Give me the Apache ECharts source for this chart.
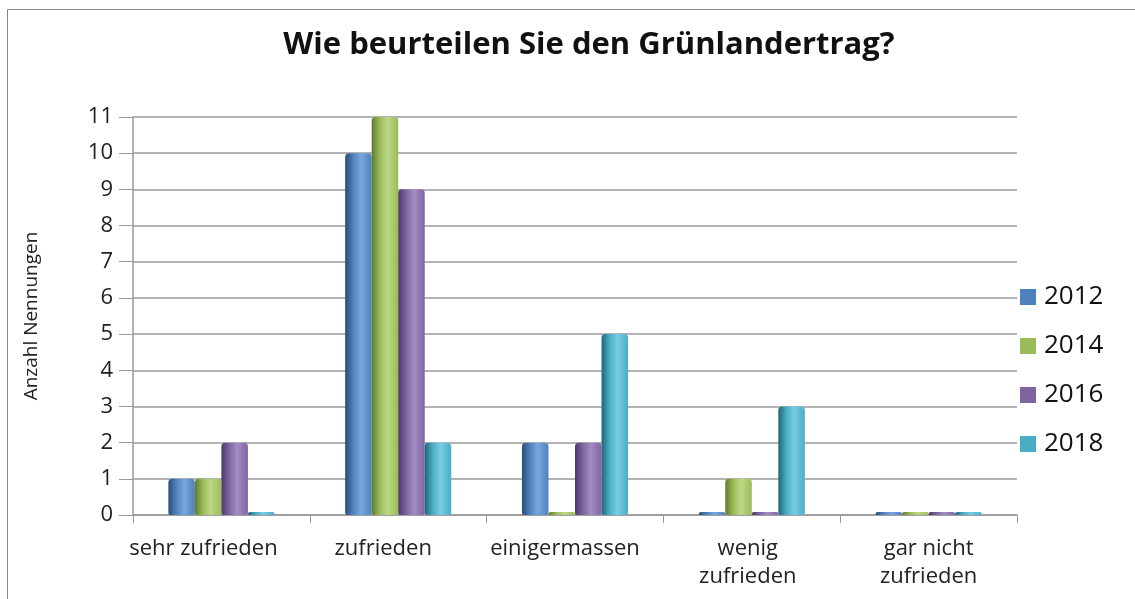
<!DOCTYPE html>
<html>
<head>
<meta charset="utf-8">
<script src="https://cdn.jsdelivr.net/npm/echarts@6/dist/echarts.min.js"></script>
<style>
  html, body { margin: 0; padding: 0; background: #fff; }
  #main { width: 1135px; height: 599px; }
</style>
</head>
<body>
<div id="main"></div>
<script>
var categories = ['sehr zufrieden', 'zufrieden', 'einigermassen', 'wenig\nzufrieden', 'gar nicht\nzufrieden'];
var years = ['2012', '2014', '2016', '2018'];
var values2012 = [1, 10, 2, 0, 0];
var values2014 = [1, 11, 0, 1, 0];
var values2016 = [2, 9, 2, 0, 0];
var values2018 = [0, 2, 5, 3, 0];
var seriesValues = [values2012, values2014, values2016, values2018];

// base, dark edge, highlight
var palette = [
  ['#4F81BD', '#2c4d75', '#7aa6dc'],
  ['#9BBB59', '#5e7a2a', '#bcd886'],
  ['#8064A2', '#4b3968', '#a48cc4'],
  ['#4BACC6', '#1f6577', '#78cde3']
];

// labels sit on the front edge of the 3d floor, so they drift left of the bars
var labelShift = [18, 15, 10, 4, 0];

var chart = echarts.init(document.getElementById('main'));

// cylinder look: dark left edge, light stripe, darker right edge
function cyl(c) {
  return new echarts.graphic.LinearGradient(0, 0, 1, 0, [
    { offset: 0, color: c[1] },
    { offset: 0.3, color: c[0] },
    { offset: 0.6, color: c[2] },
    { offset: 1, color: c[0] }
  ]);
}

var series = [];
var legendData = [];
for (var i = 0; i < years.length; i++) {
  series.push({
    name: years[i],
    type: 'bar',
    data: seriesValues[i],
    barGap: '0%',
    barCategoryGap: '40%',
    barMinHeight: 3,
    color: palette[i][0],
    itemStyle: {
      color: cyl(palette[i]),
      borderRadius: [4, 4, 2, 2]
    }
  });
  legendData.push({ name: years[i], itemStyle: { color: palette[i][0] } });
}

var rich = {};
for (var k = 0; k < labelShift.length; k++) {
  rich['c' + k] = {
    fontFamily: 'Open Sans',
    fontSize: 22,
    lineHeight: 28,
    color: '#222',
    padding: [0, labelShift[k] * 2, 0, 0]
  };
}

var option = {
  backgroundColor: '#fff',
  animation: false,
  title: {
    text: 'Wie beurteilen Sie den Grünlandertrag?',
    left: 584,
    textAlign: 'center',
    top: 25,
    textStyle: {
      fontFamily: 'Open Sans',
      fontSize: 31,
      fontWeight: 'bold',
      color: '#111'
    }
  },
  legend: {
    orient: 'vertical',
    left: 1015,
    top: 279,
    itemWidth: 16,
    itemHeight: 16,
    itemGap: 23,
    icon: 'rect',
    data: legendData,
    textStyle: { fontFamily: 'Open Sans', fontSize: 26, color: '#111', padding: [0, 0, 0, 3] }
  },
  grid: {
    left: 133,
    right: 118,
    top: 117,
    bottom: 84
  },
  xAxis: {
    type: 'category',
    data: categories,
    axisLine: { show: true, lineStyle: { color: '#999', width: 1.5 } },
    axisTick: { show: true, length: 8, lineStyle: { color: '#999' } },
    axisLabel: {
      margin: 20,
      interval: 0,
      rich: rich,
      formatter: function (value, index) {
        return value.split('\n').map(function (s) {
          return '{c' + index + '|' + s + '}';
        }).join('\n');
      }
    }
  },
  yAxis: {
    type: 'value',
    min: 0,
    max: 11,
    interval: 1,
    name: 'Anzahl Nennungen',
    nameLocation: 'middle',
    nameGap: 92,
    nameTextStyle: { fontFamily: 'Open Sans', fontSize: 19, color: '#222' },
    axisLine: { show: true, lineStyle: { color: '#999', width: 1.5 } },
    axisTick: { show: true, length: 14, lineStyle: { color: '#999' } },
    axisLabel: { margin: 20, fontFamily: 'Open Sans', fontSize: 22, color: '#222' },
    splitLine: { show: true, lineStyle: { color: '#9a9a9a', width: 1.5 } }
  },
  graphic: [{
    type: 'rect',
    shape: { x: 7.5, y: 9.5, width: 1140, height: 600 },
    style: { fill: 'none', stroke: '#888', lineWidth: 1 },
    silent: true
  }],
  series: series
};

chart.setOption(option);
</script>
</body>
</html>
